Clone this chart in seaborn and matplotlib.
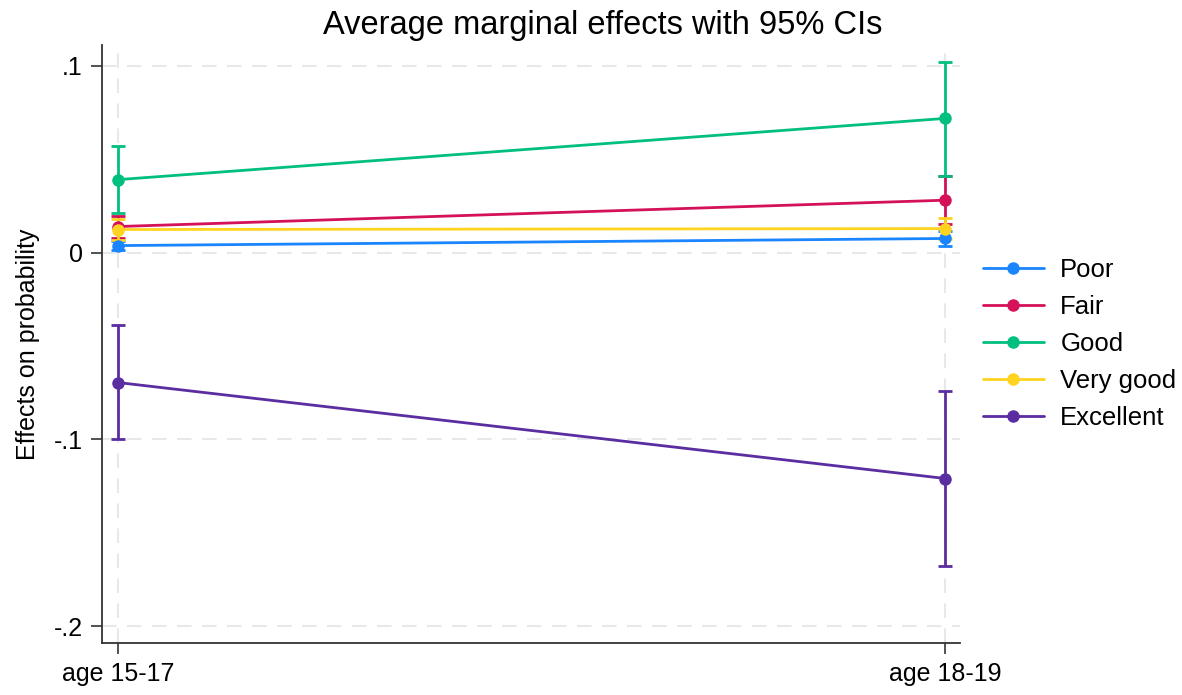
import numpy as np
import pandas as pd
import seaborn as sns
import matplotlib.pyplot as plt

# data
groups = ["age 15-17", "age 18-19"]
outcomes = ["Poor", "Fair", "Good", "Very good", "Excellent"]
colors = ["#1a85ff", "#d41159", "#00bf7f", "#ffd320", "#5a2da0"]

poor_est = [0.0037, 0.0075]
poor_lo = [0.0015, 0.0037]
poor_hi = [0.0060, 0.0113]

fair_est = [0.0139, 0.0280]
fair_lo = [0.0080, 0.0155]
fair_hi = [0.0198, 0.0410]

good_est = [0.0390, 0.0718]
good_lo = [0.0214, 0.0410]
good_hi = [0.0568, 0.1020]

vgood_est = [0.0123, 0.0128]
vgood_lo = [0.0068, 0.0070]
vgood_hi = [0.0180, 0.0187]

exc_est = [-0.0696, -0.1210]
exc_lo = [-0.0996, -0.1680]
exc_hi = [-0.0386, -0.0740]

est = [poor_est, fair_est, good_est, vgood_est, exc_est]
lo = [poor_lo, fair_lo, good_lo, vgood_lo, exc_lo]
hi = [poor_hi, fair_hi, good_hi, vgood_hi, exc_hi]

rows = []
for name, e in zip(outcomes, est):
    for i, g in enumerate(groups):
        rows.append({"outcome": name, "x": i, "group": g, "effect": e[i]})
df = pd.DataFrame(rows)

sns.set_style("white")
plt.rcParams['font.family'] = ['Liberation Sans', 'DejaVu Sans']
plt.rcParams['text.color'] = 'black'

fig = plt.figure(figsize=(11.82, 6.95), dpi=100)
ax = fig.add_axes([0.0863, 0.075, 0.726, 0.86])

# grid
for yv in [0.1, 0, -0.1, -0.2]:
    ax.axhline(yv, color="#e8e8e8", lw=1.5, ls=(0, (7, 5)), zorder=0)
for xv in [0, 1]:
    ax.axvline(xv, color="#e8e8e8", lw=1.5, ls=(0, (7, 5)), zorder=0)

# confidence intervals
for i, name in enumerate(outcomes):
    e = np.array(est[i])
    yerr = np.vstack([e - np.array(lo[i]), np.array(hi[i]) - e])
    ax.errorbar([0, 1], e, yerr=yerr, fmt="none", ecolor=colors[i],
                elinewidth=2, capsize=5, capthick=2, zorder=2)

sns.lineplot(data=df, x="x", y="effect", hue="outcome", hue_order=outcomes,
             palette=colors, marker="o", markersize=9, markeredgewidth=0,
             linewidth=2, ax=ax, zorder=3)

ax.set_xlim(-0.019, 1.018)
ax.set_ylim(-0.209, 0.111)
ax.set_xticks([0, 1])
ax.set_xticklabels(groups)
ax.set_yticks([0.1, 0, -0.1, -0.2])
ax.set_yticklabels([".1", "0", "-.1", "-.2"])
ax.tick_params(axis="both", labelsize=18, direction="out", length=8,
               width=1.2, color="#333333", labelcolor="black",
               left=True, bottom=True, pad=6)
ax.set_xlabel("")
ax.set_ylabel("Effects on probability", fontsize=18, color="black", labelpad=10)
# title centred on the whole figure, not the axes
fig.suptitle("Average marginal effects with 95% CIs", fontsize=23.5,
             color="black", x=0.51, y=0.985)

sns.despine(ax=ax)
for s in ["left", "bottom"]:
    ax.spines[s].set_color("#333333")
    ax.spines[s].set_linewidth(1.3)

handles, labels = ax.get_legend_handles_labels()
ax.legend(handles, labels, loc="center left", bbox_to_anchor=(1.0, 0.50),
          frameon=False, fontsize=18.5, handlelength=2.35, handletextpad=0.65,
          labelspacing=0.5, borderaxespad=0.5)

fig.savefig("out.png", dpi=100)
